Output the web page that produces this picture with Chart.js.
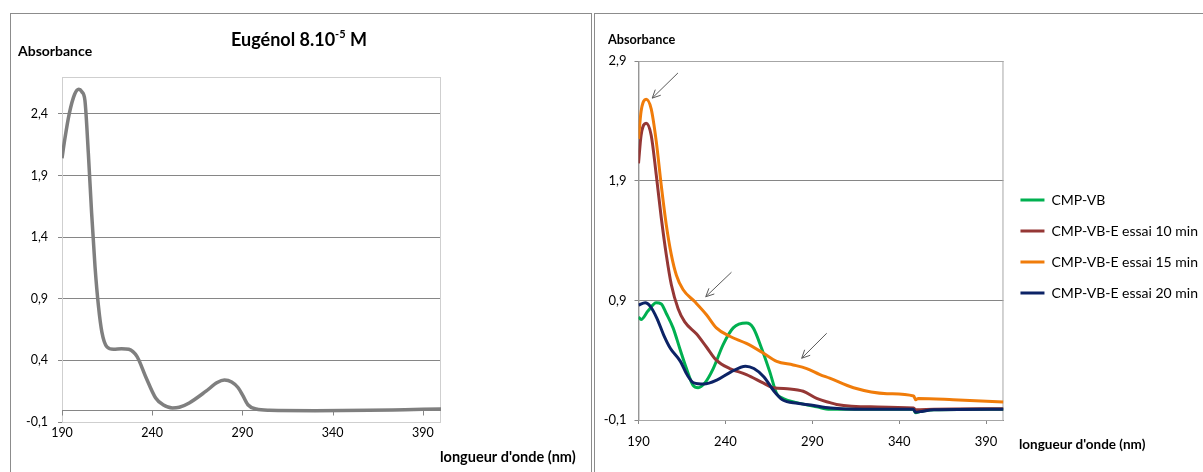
<!DOCTYPE html>
<html>
<head>
<meta charset="utf-8">
<script src="https://cdn.jsdelivr.net/npm/chart.js@4.4.1/dist/chart.umd.min.js"></script>
<style>
  html, body { margin: 0; padding: 0; background: #fff; overflow: hidden; }
  body { width: 1203px; height: 472px; position: relative; }
  .frame { position: absolute; border: 1px solid #8c8c8c; box-sizing: border-box; }
  #frameL { left: 10px; top: 13px; width: 582px; height: 480px; }
  #frameR { left: 594px; top: 13px; width: 660px; height: 480px; }
  canvas { position: absolute; top: 0; }
  #chartL { left: 0; }
  #chartR { left: 596px; }
</style>
</head>
<body>
<div class="frame" id="frameL"></div>
<div class="frame" id="frameR"></div>
<canvas id="chartL" width="592" height="472"></canvas>
<canvas id="chartR" width="640" height="472"></canvas>
<script>
// ---- Eugénol (graphe de gauche)
const wlEug = [190, 191.5, 194, 197, 199.3, 201, 202.7, 204.6, 206.4, 208.3, 210.2, 212.1, 214.9, 218.6, 223, 227, 231.6, 236.3, 241.9, 246, 251.2, 255, 260.5, 269.8, 276, 280, 284, 287.5, 290, 293, 297.6, 305, 330, 360, 380, 400];
const absEug = [2.04, 2.19, 2.40, 2.56, 2.60, 2.58, 2.51, 2.08, 1.60, 1.16, 0.84, 0.63, 0.51, 0.49, 0.495, 0.49, 0.43, 0.27, 0.095, 0.04, 0.014, 0.02, 0.055, 0.15, 0.22, 0.24, 0.225, 0.18, 0.12, 0.04, 0.005, -0.005, -0.008, -0.005, 0.0, 0.005];

// ---- CMP-VB (graphe de droite)
const wlVB = [190, 191.5, 195.4, 200.2, 203.1, 206, 209.9, 213.7, 217.6, 221.4, 224.3, 228.2, 233, 238.7, 244.5, 252.1, 256, 260.8, 265.6, 269.5, 273.3, 281, 292.5, 300.2, 348, 349.5, 352, 360, 400];
const absVB = [0.76, 0.74, 0.81, 0.88, 0.87, 0.79, 0.67, 0.50, 0.33, 0.19, 0.17, 0.21, 0.33, 0.53, 0.67, 0.71, 0.67, 0.50, 0.30, 0.12, 0.08, 0.045, 0.01, -0.01, -0.01, -0.04, -0.03, -0.015, -0.01];

const wl10 = [190, 191.5, 194.4, 197.3, 200.2, 203.1, 206, 208.9, 212.8, 216.6, 223.3, 229.1, 234.8, 242.5, 252.1, 261.7, 267.5, 277.1, 284.8, 292.5, 300.2, 304, 323.5, 348.3, 349.5, 360, 400];
const abs10 = [2.045, 2.28, 2.38, 2.28, 1.95, 1.59, 1.28, 1.03, 0.83, 0.72, 0.62, 0.51, 0.40, 0.33, 0.28, 0.21, 0.17, 0.16, 0.14, 0.08, 0.045, 0.03, 0.01, 0.0, -0.015, -0.01, -0.005];

const wl15 = [190, 191.5, 194.4, 197.3, 200.2, 203.1, 206, 208.9, 211.8, 215.6, 222.3, 229.1, 234.8, 242.5, 252.1, 261.7, 269.5, 279, 286.8, 294.4, 300, 313.7, 333, 348.3, 349.5, 351, 371, 400];
const abs15 = [2.25, 2.48, 2.58, 2.50, 2.23, 1.86, 1.53, 1.28, 1.11, 0.99, 0.89, 0.78, 0.67, 0.60, 0.54, 0.46, 0.39, 0.36, 0.33, 0.28, 0.25, 0.17, 0.12, 0.10, 0.07, 0.08, 0.07, 0.05];

const wl20 = [190, 193.9, 196.8, 200.6, 204.5, 208.3, 214.1, 217.9, 221.8, 227.6, 235.3, 243, 251.6, 256.4, 262.2, 268, 272.8, 281.4, 289.1, 300.6, 320, 348, 349.5, 352, 360, 400];
const abs20 = [0.86, 0.88, 0.85, 0.75, 0.61, 0.50, 0.39, 0.28, 0.21, 0.20, 0.235, 0.30, 0.35, 0.33, 0.26, 0.14, 0.07, 0.04, 0.025, 0.0, -0.01, -0.01, -0.035, -0.03, -0.015, -0.01];

const seriesNames = ["CMP-VB", "CMP-VB-E essai 10 min", "CMP-VB-E essai 15 min", "CMP-VB-E essai 20 min"];
const seriesColors = ["#00b050", "#953735", "#f07c0a", "#0c2366"];

const xTicks = [190, 240, 290, 340, 390];
const yTicksL = [-0.1, 0.4, 0.9, 1.4, 1.9, 2.4];
const yTicksR = [-0.1, 0.9, 1.9, 2.9];

// flèches : [x queue, y queue, x pointe, y pointe] en unités des axes
const arrows = [
    [212.7, 2.80, 197.9, 2.59],
    [243.5, 1.135, 228.7, 0.93],
    [298.3, 0.625, 283.9, 0.416]
];

const pts = (xs, ys) => xs.map((x, i) => ({ x: x, y: ys[i] }));
const comma = v => v.toFixed(1).replace(".", ",");

Chart.defaults.font.family = "Lato, 'Open Sans', sans-serif";
Chart.defaults.color = "#000";

// textes libres, cadre du graphe, flèches, ligne du zéro
const extras = {
    id: "extras",
    beforeDatasetsDraw(chart, args, opts) {
        const ctx = chart.ctx, a = chart.chartArea;
        ctx.save();
        if (opts.frame) {
            ctx.strokeStyle = opts.frame;
            ctx.lineWidth = 1;
            ctx.strokeRect(a.left + 0.5, a.top + 0.5, a.right - a.left - 1, a.bottom - a.top);
        }
        if (opts.zeroLine) {
            const y = Math.round(chart.scales.y.getPixelForValue(0)) + 0.5;
            ctx.strokeStyle = "#868686";
            ctx.beginPath();
            ctx.moveTo(a.left, y);
            ctx.lineTo(a.right, y);
            xTicks.forEach(t => {
                const x = Math.round(chart.scales.x.getPixelForValue(t)) + 0.5;
                ctx.moveTo(x, y);
                ctx.lineTo(x, y + 5);
            });
            ctx.stroke();
        }
        ctx.restore();
    },
    afterDraw(chart, args, opts) {
        const ctx = chart.ctx;
        ctx.save();
        ctx.textBaseline = "middle";
        (opts.texts || []).forEach(t => {
            ctx.fillStyle = "#000";
            if (t.sup) {
                const f1 = "bold " + t.size + "px Lato", f2 = "bold " + Math.round(t.size * 0.6) + "px Lato";
                ctx.font = f1; const w1 = ctx.measureText(t.text).width, w3 = ctx.measureText(t.after).width;
                ctx.font = f2; const w2 = ctx.measureText(t.sup).width;
                let x = t.x - (w1 + w2 + w3) / 2;
                ctx.textAlign = "left";
                ctx.font = f1; ctx.fillText(t.text, x, t.y); x += w1;
                ctx.font = f2; ctx.fillText(t.sup, x, t.y - t.size * 0.3); x += w2;
                ctx.font = f1; ctx.fillText(t.after, x, t.y);
            } else {
                ctx.font = (t.bold ? "bold " : "") + t.size + "px Lato";
                ctx.textAlign = t.align || "left";
                ctx.fillText(t.text, t.x, t.y);
            }
        });
        if (opts.arrows) {
            const sx = chart.scales.x, sy = chart.scales.y;
            ctx.strokeStyle = "#595959";
            ctx.lineWidth = 1;
            opts.arrows.forEach(r => {
                const x1 = sx.getPixelForValue(r[0]), y1 = sy.getPixelForValue(r[1]);
                const x2 = sx.getPixelForValue(r[2]), y2 = sy.getPixelForValue(r[3]);
                const ang = Math.atan2(y2 - y1, x2 - x1), h = 9;
                ctx.beginPath();
                ctx.moveTo(x1, y1);
                ctx.lineTo(x2, y2);
                ctx.moveTo(x2 - h * Math.cos(ang - 0.45), y2 - h * Math.sin(ang - 0.45));
                ctx.lineTo(x2, y2);
                ctx.lineTo(x2 - h * Math.cos(ang + 0.45), y2 - h * Math.sin(ang + 0.45));
                ctx.stroke();
            });
        }
        ctx.restore();
    }
};

// Graphe de gauche
new Chart(document.getElementById("chartL"), {
    type: "line",
    data: {
        datasets: [{
            label: "Eugénol",
            data: pts(wlEug, absEug),
            borderColor: "#7f7f7f",
            borderWidth: 3.5,
            pointRadius: 0,
            cubicInterpolationMode: "monotone"
        }]
    },
    options: {
        responsive: false,
        animation: false,
        events: [],
        layout: { padding: { left: 22, right: 151, top: 77, bottom: 30 } },
        plugins: {
            legend: { display: false },
            tooltip: { enabled: false },
            extras: {
                frame: "#cfcfcf",
                zeroLine: true,
                texts: [
                    { text: "Absorbance", x: 18, y: 51, size: 14, bold: true },
                    { text: "Eugénol 8.10", sup: "-5", after: " M", x: 299, y: 40, size: 18 },
                    { text: "longueur d'onde (nm)", x: 440, y: 457, size: 14.5, bold: true }
                ]
            }
        },
        scales: {
            x: {
                type: "linear", min: 190, max: 400,
                afterBuildTicks: s => { s.ticks = xTicks.map(v => ({ value: v })); },
                afterFit: s => { s.height = 20; },
                grid: { display: false, drawTicks: false },
                border: { display: false },
                ticks: { padding: 3, font: { size: 12.5 }, maxRotation: 0 }
            },
            y: {
                min: -0.1, max: 2.7,
                afterBuildTicks: s => { s.ticks = yTicksL.map(v => ({ value: v })); },
                afterFit: s => { s.width = 40; },
                grid: { color: "#868686", tickLength: 4 },
                border: { color: "#868686" },
                ticks: { padding: 10, font: { size: 12.5 }, callback: comma }
            }
        }
    },
    plugins: [extras]
});

// Graphe de droite
const xsR = [wlVB, wl10, wl15, wl20];
const ysR = [absVB, abs10, abs15, abs20];

// largeur de la légende pour que la zone du graphe s'arrête au bon endroit
const legFont = 14;
const legBox = 24;
const meas = document.createElement("canvas").getContext("2d");
meas.font = legFont + "px Lato";
const legTextW = Math.max(...seriesNames.map(n => meas.measureText(n).width));
const legWidth = 17 + legBox + legFont / 2 + legTextW + 10;
const canvasR = document.getElementById("chartR");
canvasR.width = Math.ceil(407 + legWidth);

new Chart(canvasR, {
    type: "line",
    data: {
        datasets: seriesNames.map((name, i) => ({
            label: name,
            data: pts(xsR[i], ysR[i]),
            borderColor: seriesColors[i],
            backgroundColor: seriesColors[i],
            borderWidth: 3,
            pointRadius: 0,
            cubicInterpolationMode: "monotone",
            order: 4 - i
        }))
    },
    options: {
        responsive: false,
        animation: false,
        events: [],
        layout: { padding: { left: 2.5, right: 0, top: 61, bottom: 17 } },
        plugins: {
            legend: {
                position: "right",
                fullSize: false,
                maxWidth: 400,
                title: { display: true, text: "", padding: 0, font: { size: 10, lineHeight: 1.2 } },
                labels: {
                    boxWidth: legBox,
                    boxHeight: 3,
                    padding: 17,
                    font: { size: legFont },
                    color: "#000",
                    sort: (a, b) => a.datasetIndex - b.datasetIndex,
                    generateLabels: chart => Chart.defaults.plugins.legend.labels.generateLabels(chart)
                        .map(l => Object.assign(l, { fillStyle: l.strokeStyle, lineWidth: 0 }))
                }
            },
            tooltip: { enabled: false },
            extras: {
                frame: "#a6a6a6",
                arrows: arrows,
                texts: [
                    { text: "Absorbance", x: 12, y: 40, size: 12.7, bold: true },
                    { text: "longueur d'onde (nm)", x: 423, y: 445, size: 13.5, bold: true }
                ]
            }
        },
        scales: {
            x: {
                type: "linear", min: 190, max: 400,
                afterBuildTicks: s => { s.ticks = xTicks.map(v => ({ value: v })); },
                afterFit: s => { s.height = 35; },
                grid: { drawOnChartArea: false, color: "#868686", tickLength: 4 },
                border: { color: "#868686" },
                ticks: { padding: 10, font: { size: 13 }, maxRotation: 0 }
            },
            y: {
                min: -0.1, max: 2.9,
                afterBuildTicks: s => { s.ticks = yTicksR.map(v => ({ value: v })); },
                afterFit: s => { s.width = 40; },
                grid: { color: "#868686", tickLength: 4 },
                border: { color: "#868686" },
                ticks: { padding: 8, font: { size: 13 }, callback: comma }
            }
        }
    },
    plugins: [extras]
});
</script>
</body>
</html>
